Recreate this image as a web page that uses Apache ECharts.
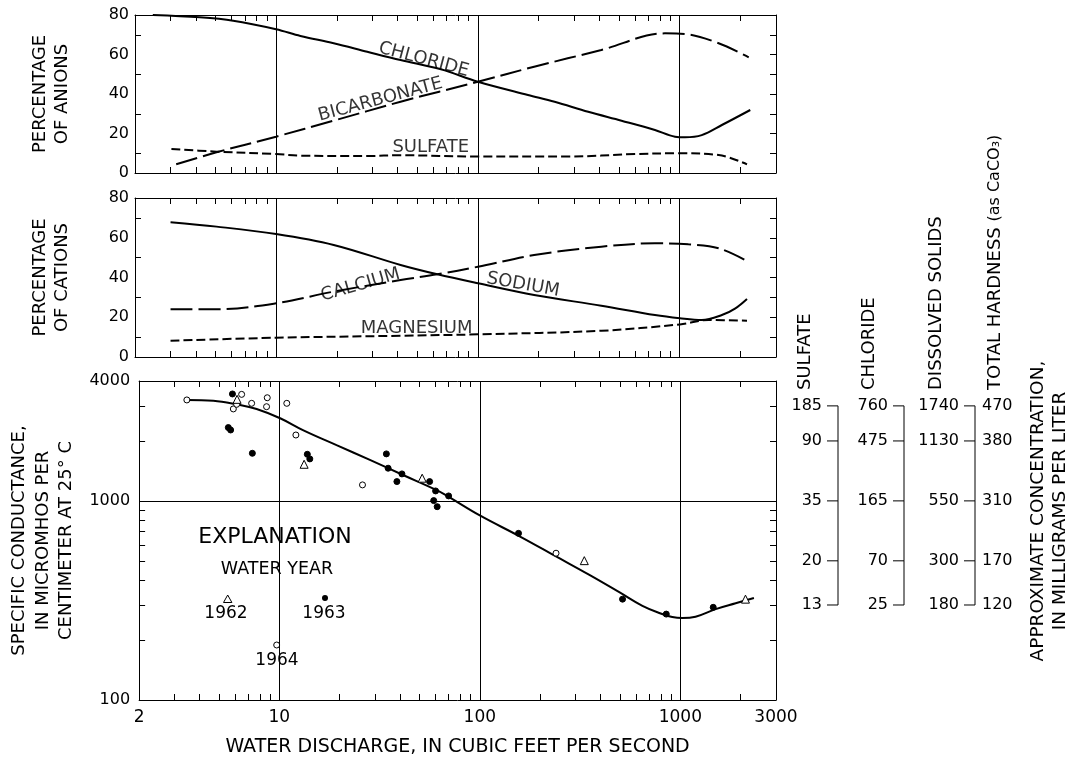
<!DOCTYPE html>
<html><head><meta charset="utf-8">
<script src="https://cdn.jsdelivr.net/npm/echarts@6/dist/echarts.min.js"></script>
<style>html,body{margin:0;padding:0;background:#fff}#c{width:1076px;height:762px}</style>
</head><body><div id="c"></div>
<script>
const FONT = 'DejaVu Sans';

// ---- axes ----
const xMin = 2, xMax = 3000;
const xTickLabels = [2, 10, 100, 1000, 3000];
const xMinorTicks = [3,4,5,6,7,8,9,20,30,40,50,60,70,80,90,200,300,400,500,600,700,800,900,2000];
const decadeLines = [10, 100, 1000];
const pctLabels = [0, 20, 40, 60, 80];
const pctTicksLeft = [10, 30, 50, 70];
const pctTicksRight = [10, 20, 30, 40, 50, 60, 70];
const condLabels = [100, 1000, 4000];
const condTicks = [200,300,400,500,600,700,800,900,2000,3000];

// ---- percentage of anions ----
const chloride = [[2.45,80.0],[4.19,78.8],[6.13,77.1],[10,72.8],[13.2,69.4],[19.3,65.7],[28.3,61.4],[41.4,57.2],[65.6,52.5],[100,46.2],[177,39.5],[240,36.1],[352,31.0],[515,26.5],[754,21.8],[948,18.4],[1062,18.1],[1286,19.2],[1618,24.3],[2237,31.9]];
const bicarbonate = [[3.2,4.4],[5.07,10.5],[10,18.4],[19.3,26.5],[41.4,36.1],[100,46.2],[190,53.8],[409,62.3],[845,70.7],[1062,70.4],[1559,65.7],[2198,58.6]];
const sulfate = [[3.03,12.2],[5.07,10.8],[10,9.6],[13.2,8.8],[28.3,8.6],[41.4,9.0],[100,8.3],[279,8.3],[600,9.6],[986,10.0],[1559,9.1],[2155,4.4]];

// ---- percentage of cations ----
const sodium = [[3.0,67.8],[5.07,65.6],[10,61.9],[19.3,56.4],[41.4,46.3],[63,41.6],[100,37.1],[190,31.2],[409,25.8],[754,21.1],[1002,19.5],[1286,18.6],[1618,21.1],[1888,24.5],[2155,29.2]];
const calcium = [[3.0,24.0],[5.07,24.0],[10,27.0],[19.3,32.9],[41.4,38.7],[63,41.6],[100,45.4],[190,51.3],[409,55.5],[754,57.2],[1104,56.7],[1559,54.7],[2155,48.3]];
const magnesium = [[3.0,8.2],[10,9.7],[41.4,10.7],[100,11.4],[409,13.2],[1002,16.4],[1390,18.6],[2155,18.3]];

// ---- curve labels (name, anchor in data units, rotation) ----
const anionNames = ['CHLORIDE', 'BICARBONATE', 'SULFATE'];
const anionLabelAt = [[53.9,57.4],[32.9,37.1],[58.4,13.2]];
const anionLabelRot = [-15, 15, 0];
const cationNames = ['CALCIUM', 'SODIUM', 'MAGNESIUM'];
const cationLabelAt = [[26.2,36.2],[167.5,36.3],[49.7,14.6]];
const cationLabelRot = [16, -10, 0];

// ---- specific conductance ----
const fitCurve = [[3.46,3213],[4.69,3184],[6.13,3054],[7.71,2896],[10.1,2601],[13.2,2260],[19.3,1905],[28.3,1607],[41.4,1349],[60.6,1135],[70,1047],[100,845],[158,664],[240,526],[352,425],[496,348],[647,297],[798,272],[912,261],[1023,258],[1191,262],[1500,286],[1888,306],[2328,325]];
const year1962 = [[6.16,3236],[13.3,1527],[51.6,1300],[332,501],[2113,321]];
const year1963 = [[5.84,3443],[5.57,2335],[5.72,2270],[7.34,1734],[13.8,1714],[14.2,1625],[34.2,1722],[34.9,1459],[40.9,1366],[38.6,1250],[56.2,1250],[60.2,1122],[69.9,1059],[58.9,1003],[61.3,935],[156,687],[515,321],[851,270],[1459,292]];
const year1964 = [[3.46,3213],[5.90,2896],[6.13,3054],[6.49,3427],[7.28,3090],[8.71,3296],[8.64,2972],[10.9,3090],[12.1,2142],[26.0,1203],[240,546]];

// ---- approximate concentration scales (at conductance values) ----
const scaleCond = [3000, 2000, 1000, 500, 300];
const sulfateMg = ['185','90','35','20','13'];
const chlorideMg = ['760','475','165','70','25'];
const solidsMg = ['1740','1130','550','300','180'];
const hardnessMg = ['470','380','310','170','120'];

const BLACK = '#000';
const lineSt = {color: BLACK, width: 1};

function makeX(grid, pos) {
  const main = grid === 2 && pos === 'bottom';
  return {
    type: 'log', logBase: 10, gridIndex: grid, position: pos, min: xMin, max: xMax,
    axisLine: {show: true, onZero: false, lineStyle: lineSt},
    axisTick: {show: true, inside: true, length: 6, customValues: xMinorTicks, lineStyle: lineSt},
    axisLabel: {show: main, customValues: xTickLabels, formatter: v => String(Math.round(v)),
      color: BLACK, fontSize: 17, fontFamily: FONT, margin: 9},
    splitLine: {show: false}, minorTick: {show: false},
    name: main ? 'WATER DISCHARGE, IN CUBIC FEET PER SECOND' : '',
    nameLocation: 'middle', nameGap: 38,
    nameTextStyle: {color: BLACK, fontSize: 19, fontFamily: FONT}
  };
}
function makePctY(grid, pos, name) {
  return {
    type: 'value', gridIndex: grid, position: pos, min: 0, max: 80,
    axisLine: {show: true, onZero: false, lineStyle: lineSt},
    axisTick: {show: true, inside: true, length: 6, customValues: pos === 'left' ? pctTicksLeft : pctTicksRight, lineStyle: lineSt},
    axisLabel: {show: pos === 'left', customValues: pctLabels, color: BLACK, fontSize: 16, fontFamily: FONT, margin: 6},
    splitLine: {show: false},
    name: pos === 'left' ? name : '', nameLocation: 'middle', nameRotate: 90, nameGap: 62,
    nameTextStyle: {color: BLACK, fontSize: 18, fontFamily: FONT, lineHeight: 22}
  };
}
function makeCondY(pos) {
  return {
    type: 'log', logBase: 10, gridIndex: 2, position: pos, min: 100, max: 4000,
    axisLine: {show: true, onZero: false, lineStyle: lineSt},
    axisTick: {show: true, inside: true, length: 6, customValues: condTicks, lineStyle: lineSt},
    axisLabel: {show: pos === 'left', customValues: condLabels, formatter: v => String(Math.round(v)),
      color: BLACK, fontSize: 16, fontFamily: FONT, margin: 9},
    splitLine: {show: false}, minorTick: {show: false},
    name: pos === 'left' ? 'SPECIFIC CONDUCTANCE,\nIN MICROMHOS PER\nCENTIMETER AT 25° C' : '',
    nameLocation: 'middle', nameRotate: 90, nameGap: 60,
    nameTextStyle: {color: BLACK, fontSize: 18, fontFamily: FONT, lineHeight: 23.5}
  };
}

function curve(data, g, type) {
  return {type: 'line', xAxisIndex: g * 2, yAxisIndex: g * 2, data, symbol: 'none', showSymbol: false,
    smooth: 0.35, silent: true, z: 3, lineStyle: {color: BLACK, width: 2, type: type}};
}
function decadeMark(extra) {
  return {silent: true, symbol: ['none', 'none'], label: {show: false},
    lineStyle: {color: BLACK, width: 1, type: 'solid'}, emphasis: {disabled: true},
    data: decadeLines.map(v => ({xAxis: v})).concat(extra || [])};
}
function labelSeries(g, names, at, rot) {
  return {type: 'scatter', xAxisIndex: g * 2, yAxisIndex: g * 2, symbolSize: 1, silent: true, z: 5,
    itemStyle: {color: 'rgba(0,0,0,0)'},
    data: at.map((p, i) => ({value: p, label: {formatter: names[i], rotate: rot[i]}})),
    label: {show: true, position: 'inside', color: BLACK, fontSize: 18, fontFamily: FONT}};
}
function points(data, sym, filled, size) {
  return {type: 'scatter', xAxisIndex: 4, yAxisIndex: 4, data, symbol: sym, symbolSize: size, silent: true, z: 6,
    itemStyle: {color: filled ? BLACK : '#fff', borderColor: BLACK, borderWidth: 1, opacity: 1}};
}

const tx = (text, x, y, size, extra) => Object.assign({
  type: 'text', x, y, silent: true,
  style: {text, fill: BLACK, fontSize: size, fontFamily: FONT, lineHeight: 22,
    textAlign: 'center', textVerticalAlign: 'middle', align: 'center', verticalAlign: 'middle'}
}, extra || {});
const vtx = (text, x, y, size) => ({
  type: 'text', x, y, rotation: Math.PI / 2, silent: true,
  style: {text, fill: BLACK, fontSize: size, fontFamily: FONT,
    textAlign: 'left', textVerticalAlign: 'middle', align: 'left', verticalAlign: 'middle'}
});

const chart = echarts.init(document.getElementById('c'), null, {renderer: 'canvas'});
chart.setOption({
  backgroundColor: '#fff',
  animation: false,
  grid: [
    {left: 135, width: 641, top: 15, height: 158},
    {left: 135, width: 641, top: 198, height: 159},
    {left: 135, width: 641, top: 381, height: 319}
  ],
  xAxis: [makeX(0, 'bottom'), makeX(0, 'top'), makeX(1, 'bottom'), makeX(1, 'top'), makeX(2, 'bottom'), makeX(2, 'top')],
  yAxis: [makePctY(0, 'left', 'PERCENTAGE\nOF ANIONS'), makePctY(0, 'right'),
          makePctY(1, 'left', 'PERCENTAGE\nOF CATIONS'), makePctY(1, 'right'),
          makeCondY('left'), makeCondY('right')],
  series: [
    Object.assign(curve(chloride, 0, 'solid'), {markLine: decadeMark()}),
    curve(bicarbonate, 0, [22, 6]),
    curve(sulfate, 0, [9, 4]),
    labelSeries(0, anionNames, anionLabelAt, anionLabelRot),
    Object.assign(curve(sodium, 1, 'solid'), {markLine: decadeMark()}),
    curve(calcium, 1, [22, 6]),
    curve(magnesium, 1, [9, 4]),
    labelSeries(1, cationNames, cationLabelAt, cationLabelRot),
    Object.assign(curve(fitCurve, 2, 'solid'), {smooth: 0.4, markLine: decadeMark([{yAxis: 1000}])}),
    points(year1964, 'circle', false, 6),
    points(year1963, 'circle', true, 6),
    points(year1962, 'triangle', false, 8),
    {
      type: 'custom', xAxisIndex: 4, yAxisIndex: 4, clip: false, silent: true, z: 4,
      data: scaleCond.map(c => [xMax, c]),
      renderItem: (params, api) => {
        const i = params.dataIndex;
        const cs = params.coordSys;
        const right = cs.x + cs.width;
        const y = api.coord([xMax, api.value(1)])[1];
        const yNext = i < scaleCond.length - 1 ? api.coord([xMax, scaleCond[i + 1]])[1] : y;
        const cols = [
          {off: 62, labels: sulfateMg},
          {off: 128, labels: chlorideMg},
          {off: 199, labels: solidsMg, rightLabels: hardnessMg}
        ];
        const children = [];
        cols.forEach(c => {
          const lx = right + c.off;
          children.push({type: 'line', shape: {x1: lx - 11, y1: y, x2: lx, y2: y}, style: {stroke: BLACK, lineWidth: 1}});
          if (yNext !== y) children.push({type: 'line', shape: {x1: lx, y1: y, x2: lx, y2: yNext}, style: {stroke: BLACK, lineWidth: 1}});
          children.push({type: 'text', x: lx - 16, y: y, style: {text: c.labels[i], fill: BLACK, fontSize: 16, fontFamily: FONT,
            textAlign: 'right', textVerticalAlign: 'middle', align: 'right', verticalAlign: 'middle'}});
          if (c.rightLabels) children.push({type: 'text', x: lx + 7, y: y, style: {text: c.rightLabels[i], fill: BLACK, fontSize: 16, fontFamily: FONT,
            textAlign: 'left', textVerticalAlign: 'middle', align: 'left', verticalAlign: 'middle'}});
        });
        return {type: 'group', children};
      }
    }
  ],
  graphic: [
    vtx('SULFATE', 805, 390, 18),
    vtx('CHLORIDE', 869, 390, 18),
    vtx('DISSOLVED SOLIDS', 936, 390, 18),
    {
      type: 'text', x: 995, y: 390, rotation: Math.PI / 2, silent: true,
      style: {text: '{a|TOTAL HARDNESS} {b|(as CaCO₃)}', fill: BLACK, fontSize: 18, fontFamily: FONT,
        textAlign: 'left', textVerticalAlign: 'middle', align: 'left', verticalAlign: 'middle',
        rich: {a: {fontSize: 18, fontFamily: FONT, fill: BLACK}, b: {fontSize: 16, fontFamily: FONT, fill: BLACK}}}
    },
    tx('APPROXIMATE CONCENTRATION,\nIN MILLIGRAMS PER LITER', 1049, 511, 18.5, {rotation: Math.PI / 2}),
    tx('EXPLANATION', 275, 537, 22),
    tx('WATER YEAR', 277, 569, 17.5),
    tx('1962', 226, 614, 17),
    tx('1963', 324, 614, 17),
    tx('1964', 277, 661, 17),
    {type: 'polygon', silent: true, shape: {points: [[227.7, 595], [223.5, 602.5], [231.9, 602.5]]}, style: {fill: '#fff', stroke: BLACK, lineWidth: 1}},
    {type: 'circle', silent: true, shape: {cx: 325, cy: 598, r: 3}, style: {fill: BLACK}},
    {type: 'circle', silent: true, shape: {cx: 276.7, cy: 645, r: 3}, style: {fill: '#fff', stroke: BLACK, lineWidth: 1}}
  ]
});
</script>
</body></html>
